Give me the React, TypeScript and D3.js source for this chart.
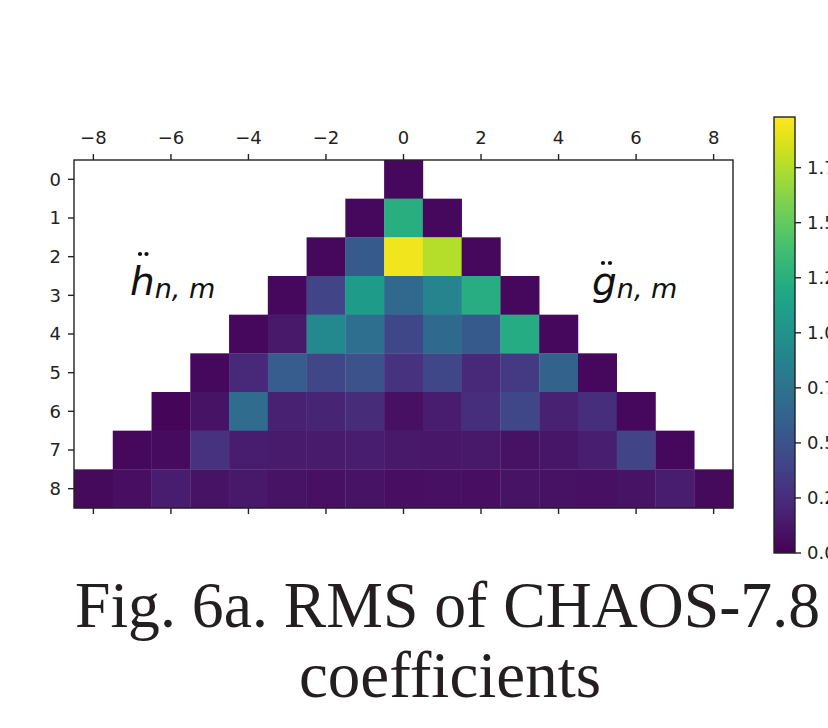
import React from "react";
import * as d3 from "d3";

// RMS values per degree n (rows), orders m = -n..n
const degrees = [0, 1, 2, 3, 4, 5, 6, 7, 8];
const rmsRows: number[][] = [
  [0.04],
  [0.04, 1.25, 0.04],
  [0.04, 0.55, 1.94, 1.76, 0.04],
  [0.04, 0.4, 1.09, 0.66, 0.89, 1.23, 0.04],
  [0.04, 0.13, 0.93, 0.71, 0.42, 0.67, 0.55, 1.22, 0.04],
  [0.04, 0.22, 0.58, 0.42, 0.5, 0.28, 0.42, 0.22, 0.34, 0.62, 0.04],
  [0.03, 0.1, 0.69, 0.18, 0.2, 0.24, 0.08, 0.16, 0.26, 0.42, 0.18, 0.26, 0.04],
  [0.04, 0.06, 0.28, 0.16, 0.14, 0.14, 0.15, 0.13, 0.12, 0.13, 0.09, 0.11, 0.17, 0.4, 0.04],
  [0.05, 0.07, 0.16, 0.1, 0.13, 0.1, 0.08, 0.1, 0.07, 0.08, 0.07, 0.1, 0.09, 0.08, 0.1, 0.16, 0.05],
];
const xTicks = [-8, -6, -4, -2, 0, 2, 4, 6, 8];
const yTicks = [0, 1, 2, 3, 4, 5, 6, 7, 8];
const cbTicks = [0, 0.25, 0.5, 0.75, 1.0, 1.25, 1.5, 1.75];
const colorMin = 0;
const colorMax = 1.98;

export default function App() {
  const W = 828,
    H = 728;
  const left = 74,
    right = 733,
    top = 160,
    bottom = 508;

  const x = d3.scaleLinear().domain([-8.5, 8.5]).range([left, right]);
  const y = d3.scaleLinear().domain([-0.5, 8.5]).range([top, bottom]);
  const color = d3
    .scaleSequential(d3.interpolateViridis)
    .domain([colorMin, colorMax]);

  const cbX = 774,
    cbW = 21,
    cbTop = 117,
    cbBottom = 553;
  const cbY = d3
    .scaleLinear()
    .domain([colorMin, colorMax])
    .range([cbBottom, cbTop]);

  const cells: { n: number; m: number; v: number }[] = [];
  rmsRows.forEach((row, n) => {
    row.forEach((v, i) => {
      cells.push({ n: degrees[n], m: i - n, v });
    });
  });

  const stops = d3.range(0, 1.0001, 0.05);
  const fontSans = "DejaVu Sans, sans-serif";
  const tickFont = 18;
  const cw = x(1) - x(0);
  const ch = y(1) - y(0);

  return (
    <svg
      width={W}
      height={H}
      style={{ position: "absolute", left: 0, top: 0, background: "#fff" }}
    >
      <defs>
        <linearGradient id="cbGrad" x1="0" y1="1" x2="0" y2="0">
          {stops.map((s) => (
            <stop key={s} offset={s} stopColor={d3.interpolateViridis(s)} />
          ))}
        </linearGradient>
      </defs>
      <rect x={0} y={0} width={W} height={H} fill="#fff" />

      {/* heatmap cells */}
      {cells.map((c) => (
        <rect
          key={`${c.n}_${c.m}`}
          x={x(c.m - 0.5)}
          y={y(c.n - 0.5)}
          width={cw + 0.3}
          height={ch + 0.3}
          fill={color(c.v)}
        />
      ))}

      {/* frame */}
      <rect
        x={left}
        y={top}
        width={right - left}
        height={bottom - top}
        fill="none"
        stroke="#222"
        strokeWidth={1.4}
      />

      {/* x ticks top and bottom */}
      {xTicks.map((t) => (
        <g key={`xt${t}`}>
          <line x1={x(t)} x2={x(t)} y1={top} y2={top - 6} stroke="#222" strokeWidth={1.4} />
          <line x1={x(t)} x2={x(t)} y1={bottom} y2={bottom + 6} stroke="#222" strokeWidth={1.4} />
          <text
            x={x(t)}
            y={144}
            textAnchor="middle"
            fontFamily={fontSans}
            fontSize={tickFont}
            fill="#222"
          >
            {t < 0 ? `\u2212${Math.abs(t)}` : `${t}`}
          </text>
        </g>
      ))}

      {/* y ticks */}
      {yTicks.map((t) => (
        <g key={`yt${t}`}>
          <line x1={left} x2={left - 6} y1={y(t)} y2={y(t)} stroke="#222" strokeWidth={1.4} />
          <text
            x={left - 13}
            y={y(t)}
            dy="0.36em"
            textAnchor="end"
            fontFamily={fontSans}
            fontSize={tickFont}
            fill="#222"
          >
            {t}
          </text>
        </g>
      ))}

      {/* h label */}
      <text x={130} y={295} fontFamily={fontSans} fontStyle="italic" fontSize={39} fill="#111">
        h
        <tspan fontSize={27} dy={3}>
          n, m
        </tspan>
      </text>
      <circle cx={140} cy={254} r={2.1} fill="#111" />
      <circle cx={146.5} cy={254} r={2.1} fill="#111" />

      {/* g label */}
      <text x={592} y={295} fontFamily={fontSans} fontStyle="italic" fontSize={39} fill="#111">
        g
        <tspan fontSize={27} dy={3}>
          n, m
        </tspan>
      </text>
      <circle cx={603} cy={263} r={2.1} fill="#111" />
      <circle cx={610} cy={263} r={2.1} fill="#111" />

      {/* colorbar */}
      <rect x={cbX} y={cbTop} width={cbW} height={cbBottom - cbTop} fill="url(#cbGrad)" />
      <rect
        x={cbX}
        y={cbTop}
        width={cbW}
        height={cbBottom - cbTop}
        fill="none"
        stroke="#222"
        strokeWidth={1.4}
      />
      {cbTicks.map((t) => (
        <g key={`cb${t}`}>
          <line
            x1={cbX + cbW}
            x2={cbX + cbW + 6}
            y1={cbY(t)}
            y2={cbY(t)}
            stroke="#222"
            strokeWidth={1.4}
          />
          <text
            x={cbX + cbW + 12}
            y={cbY(t)}
            dy="0.36em"
            fontFamily={fontSans}
            fontSize={tickFont}
            fill="#222"
          >
            {t.toFixed(2)}
          </text>
        </g>
      ))}

      {/* caption */}
      <text
        x={75}
        y={627}
        fontFamily="Liberation Serif, Times New Roman, serif"
        fontSize={65}
        fill="#231f20"
        textLength={745}
        lengthAdjust="spacingAndGlyphs"
      >
        Fig. 6a. RMS of CHAOS-7.8
      </text>
      <text
        x={450}
        y={697}
        textAnchor="middle"
        fontFamily="Liberation Serif, Times New Roman, serif"
        fontSize={65}
        fill="#231f20"
      >
        coefficients
      </text>
    </svg>
  );
}
